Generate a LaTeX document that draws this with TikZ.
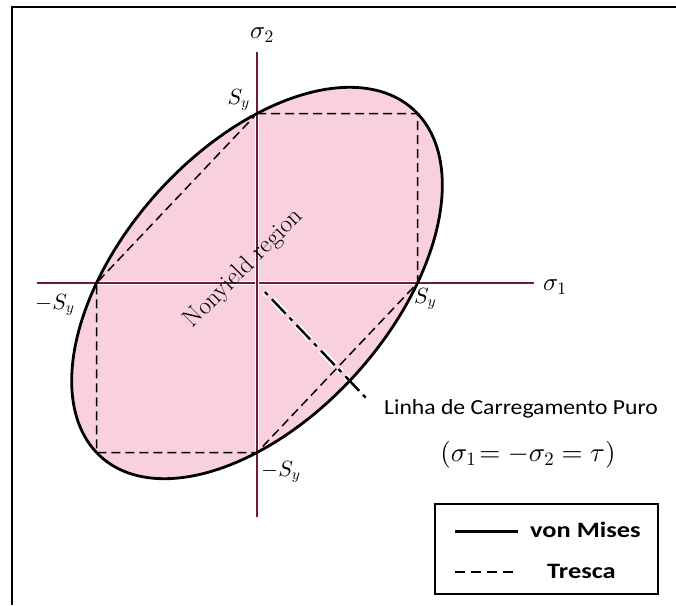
\documentclass[tikz,border=0pt]{standalone}
\usepackage{fontspec}
\DeclareFontShape{OML}{cmm}{m}{it}{<->cmmi10}{}
\DeclareFontShape{OMS}{cmsy}{m}{n}{<->cmsy10}{}
\DeclareFontShape{OT1}{cmr}{m}{n}{<->cmr10}{}
\newfontfamily\calib{Carlito}
\definecolor{pinkfill}{RGB}{249,208,224}
\definecolor{axiscol}{RGB}{110,28,48}
\tikzset{
  axisline/.style={draw=axiscol, line width=1.6pt, preaction={draw=white, line width=4.5pt}},
  trescaline/.style={draw=black, line width=1.5pt, dash pattern=on 9pt off 5pt},
  misesline/.style={draw=black, line width=2.8pt},
  loadline/.style={draw=black, line width=2.4pt, dash pattern=on 4pt off 6pt on 20pt off 5.5pt,
    preaction={draw=white, line width=6pt, dash pattern=on 4pt off 6pt on 20pt off 5.5pt}},
  symlabel/.style={inner sep=0pt, font=\fontsize{22}{26}\selectfont},
  sigmalabel/.style={inner sep=0pt, font=\fontsize{25}{29}\selectfont},
  calibtext/.style={inner sep=0pt, font=\calib\fontsize{21.5}{25}\selectfont},
  legendtext/.style={inner sep=0pt, font=\calib\bfseries\fontsize{22}{26}\selectfont},
  frameline/.style={draw=black, line width=2pt},
  legendbox/.style={draw=black, line width=2.5pt, minimum width=223pt, minimum height=90pt, inner sep=0pt}
}
\begin{document}
\begin{tikzpicture}[x=1pt,y=-1pt]
\useasboundingbox (0,0) rectangle (676,605);
% frame (left and top)
\draw[frameline] (12,605) -- (12,7) -- (676,7);
% key points
\coordinate (O) at (257,283);
\coordinate (xl) at (37,283);
\coordinate (xr) at (534,283);
\coordinate (yt) at (257,52);
\coordinate (yb) at (257,517);
\coordinate (T1) at (257,113.5);
\coordinate (T2) at (417.5,113.5);
\coordinate (T3) at (417.5,283);
\coordinate (T4) at (257,452.5);
\coordinate (T5) at (96.5,452.5);
\coordinate (T6) at (96.5,283);
\coordinate (L1) at (265,292);
\coordinate (L2) at (366,398);
% von Mises region fill
\fill[pinkfill] plot[variable=\t, domain=0:360, samples=181]
  ({257+160.5*(cos(\t)-sin(\t)/sqrt(3))},{283-169.5*(cos(\t)+sin(\t)/sqrt(3))}) -- cycle;
% Tresca hexagon
\draw[trescaline] (T1) -- (T2) -- (T3) -- (T4) -- (T5) -- (T6) -- cycle;
% axes
\draw[axisline] (xl) -- (xr);
\draw[axisline] (yt) -- (yb);
% pure shear load line
\draw[loadline] (L1) -- (L2);
% von Mises ellipse outline
\draw[misesline] plot[variable=\t, domain=0:360, samples=181]
  ({257+160.5*(cos(\t)-sin(\t)/sqrt(3))},{283-169.5*(cos(\t)+sin(\t)/sqrt(3))}) -- cycle;
% labels
\node[rotate=45, inner sep=0pt, font=\fontsize{25}{29}\selectfont] (nonyield) at (244,269) {Nonyield region};
\node[sigmalabel] (s2) at (262,35) {$\sigma_2$};
\node[sigmalabel, anchor=west] (s1) at (543,287) {$\sigma_1$};
\node[symlabel, anchor=south east] (sytop) at (250,111) {$S_y$};
\node[symlabel, anchor=north west] (syleft) at (35,294) {$-S_y$};
\node[symlabel, anchor=north west] (syright) at (414,288) {$S_y$};
\node[symlabel, anchor=north west] (sybot) at (261,461) {$-S_y$};
\node[calibtext, anchor=base west] (linha) at (384,414) {\scalebox{1.1}[1]{Linha de Carregamento Puro}};
\node[inner sep=0pt, font=\fontsize{27}{31}\selectfont] (eq) at (528,455) {$(\sigma_1\!= -\sigma_2 = \tau)$};
% legend
\node[legendbox] (legend) at (546.5,549) {};
\coordinate (m1) at (455,531);
\coordinate (m2) at (518,531);
\coordinate (d1) at (455,572);
\coordinate (d2) at (518,572);
\draw[black, line width=3pt] (m1) -- (m2);
\draw[black, line width=1.5pt, dash pattern=on 10pt off 6pt] (d1) -- (d2);
\node[legendtext, anchor=base west] (vm) at (530,537) {\scalebox{1.2}[1]{von Mises}};
\node[legendtext, anchor=base west] (tr) at (547,578) {\scalebox{1.2}[1]{Tresca}};
\end{tikzpicture}
\end{document}
